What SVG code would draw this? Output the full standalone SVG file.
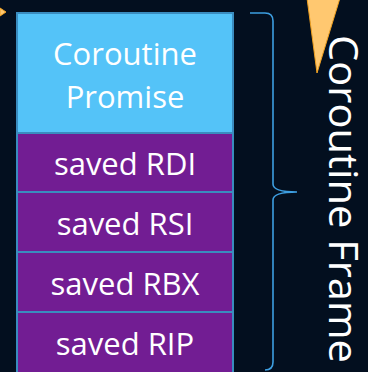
<svg xmlns="http://www.w3.org/2000/svg" width="368" height="372" viewBox="0 0 368 372">
  <defs>
    <style>
      .cell { stroke: #3a8cbf; stroke-width: 2; }
      .promise { fill: #54c3f8; }
      .reg { fill: #721d93; }
      .lbl { font-family: "Open Sans", "Noto Sans", sans-serif; font-size: 31px; fill: #ffffff; text-anchor: middle; }
      .brace { fill: none; stroke: #3d9ee0; stroke-width: 1.6; }
      .pointer { fill: #ffc870; stroke: #f0a020; stroke-width: 1; }
    </style>
  </defs>
  <rect width="368" height="372" fill="#030f1f"/>

  <!-- small pointer tip at the top left -->
  <polygon class="pointer" points="0,8 6,12 0,16"/>

  <!-- frame cells -->
  <g id="promise">
    <rect class="cell promise" x="17" y="13" width="216" height="120"/>
    <text class="lbl" x="125" y="65">Coroutine</text>
    <text class="lbl" x="125" y="108">Promise</text>
  </g>
  <g id="rdi">
    <rect class="cell reg" x="17" y="133" width="216" height="59"/>
    <text class="lbl" x="125" y="175">saved RDI</text>
  </g>
  <g id="rsi">
    <rect class="cell reg" x="17" y="192" width="216" height="60"/>
    <text class="lbl" x="125" y="235">saved RSI</text>
  </g>
  <g id="rbx">
    <rect class="cell reg" x="17" y="252" width="216" height="60"/>
    <text class="lbl" x="125" y="295">saved RBX</text>
  </g>
  <g id="rip">
    <rect class="cell reg" x="17" y="312" width="216" height="62"/>
    <text class="lbl" x="125" y="355">saved RIP</text>
  </g>

  <!-- brace spanning the frame -->
  <g id="connectors">
    <path class="brace" d="M250,13 L265,13 Q273,13 273,21 L273,184 Q273,192 297,192 Q273,192 273,200 L273,362 Q273,370 265,370"/>
    <!-- downward pointer -->
    <polygon class="pointer" points="307,-2 340,-2 317,73"/>
  </g>

  <!-- vertical caption -->
  <g id="caption">
    <text font-family="Open Sans, Noto Sans, sans-serif" font-size="40" fill="#ffffff" transform="translate(329,35) rotate(90)" textLength="328" lengthAdjust="spacingAndGlyphs">Coroutine Frame</text>
  </g>
</svg>
